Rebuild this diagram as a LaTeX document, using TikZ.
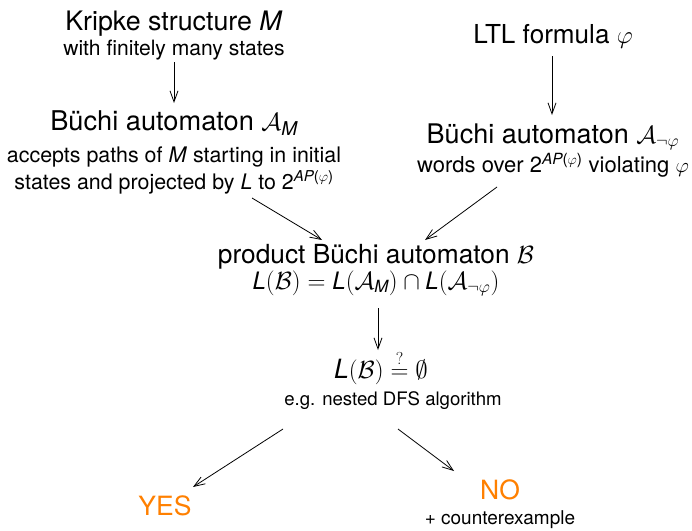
\documentclass[tikz,border=0pt]{standalone}
\usepackage{amsmath}
\usepackage{fontspec}
\setmainfont{TeX Gyre Heros}
\usetikzlibrary{calc,arrows.meta}
\definecolor{yesno}{RGB}{255,128,0}
\newcommand{\itl}[1]{\text{\itshape #1}}
\begin{document}
\begin{tikzpicture}[x=1pt,y=-1pt,
  txt/.style={font=\fontsize{#1}{#1}\selectfont, inner sep=0pt, anchor=base},
  big/.style={txt=26.5},
  small/.style={txt=#1},
  conn/.style={-{Straight Barb[length=11pt,width=8pt]}, line width=0.8pt}]
\useasboundingbox (0,0) rectangle (692,530);
\fill[white] (0,0) rectangle (692,530);
% left column
\node[txt=26.8] (k1)  at (174,30)  {Kripke structure \textit{M}};
\node[small=21.1] (k2)  at (174,55)  {with finitely many states};
\node[txt=27.2] (am1) at (174,130) {Büchi automaton $\mathcal{A}_{\itl{M}}$};
\node[small=21.4] (am2) at (174,162) {accepts paths of \textit{M} starting in initial};
\node[small=21.4] (am3) at (174,189) {states and projected by \textit{L} to 2\textsuperscript{\itshape AP\upshape(\(\varphi\))}};
% right column
\node[txt=26.1] (l1)  at (553,43)  {LTL formula $\varphi$};
\node[txt=27] (an1) at (553,143) {Büchi automaton $\mathcal{A}_{\neg\varphi}$};
\node[small=22] (an2) at (553,172) {words over 2\textsuperscript{\itshape AP\upshape(\(\varphi\))} violating $\varphi$};
% product
\node[txt=26.3] (p1)  at (376,263) {product Büchi automaton $\mathcal{B}$};
\node[small=24] (p2)  at (376,289) {$\itl{L}(\mathcal{B}) = \itl{L}(\mathcal{A}_{\itl{M}}) \cap \itl{L}(\mathcal{A}_{\neg\varphi})$};
% emptiness
\node[txt=26.5] (e1)  at (381,378) {$\itl{L}(\mathcal{B}) \stackrel{?}{=} \emptyset$};
\node[small=18.6] (e2)  at (393,405) {e.g. nested DFS algorithm};
% results
\node[big, text=yesno] (yes) at (165,515) {YES};
\node[big, text=yesno] (no)  at (500,499) {NO};
\node[small=19] (ce)  at (500,524) {+ counterexample};
% connectors
\draw[conn] ($(k2.base)+(0,7)$) -- ($(am1.base)+(0,-27)$);
\draw[conn] ($(l1.base)+(-1,13)$) -- ($(an1.base)+(-1,-28)$);
\draw[conn] ($(am3.base)+(78,9)$) -- ($(p1.base)+(-54,-23)$);
\draw[conn] ($(an2.base)+(-56,15)$) -- ($(p1.base)+(49,-23)$);
\draw[conn] ($(p2.base)+(2,19)$) -- ($(e1.base)+(-3,-28)$);
\draw[conn] ($(e2.base)+(-110,24)$) -- ($(yes.base)+(28,-28)$);
\draw[conn] ($(e2.base)+(5,24)$) -- ($(no.base)+(-46,-28)$);
\end{tikzpicture}
\end{document}
